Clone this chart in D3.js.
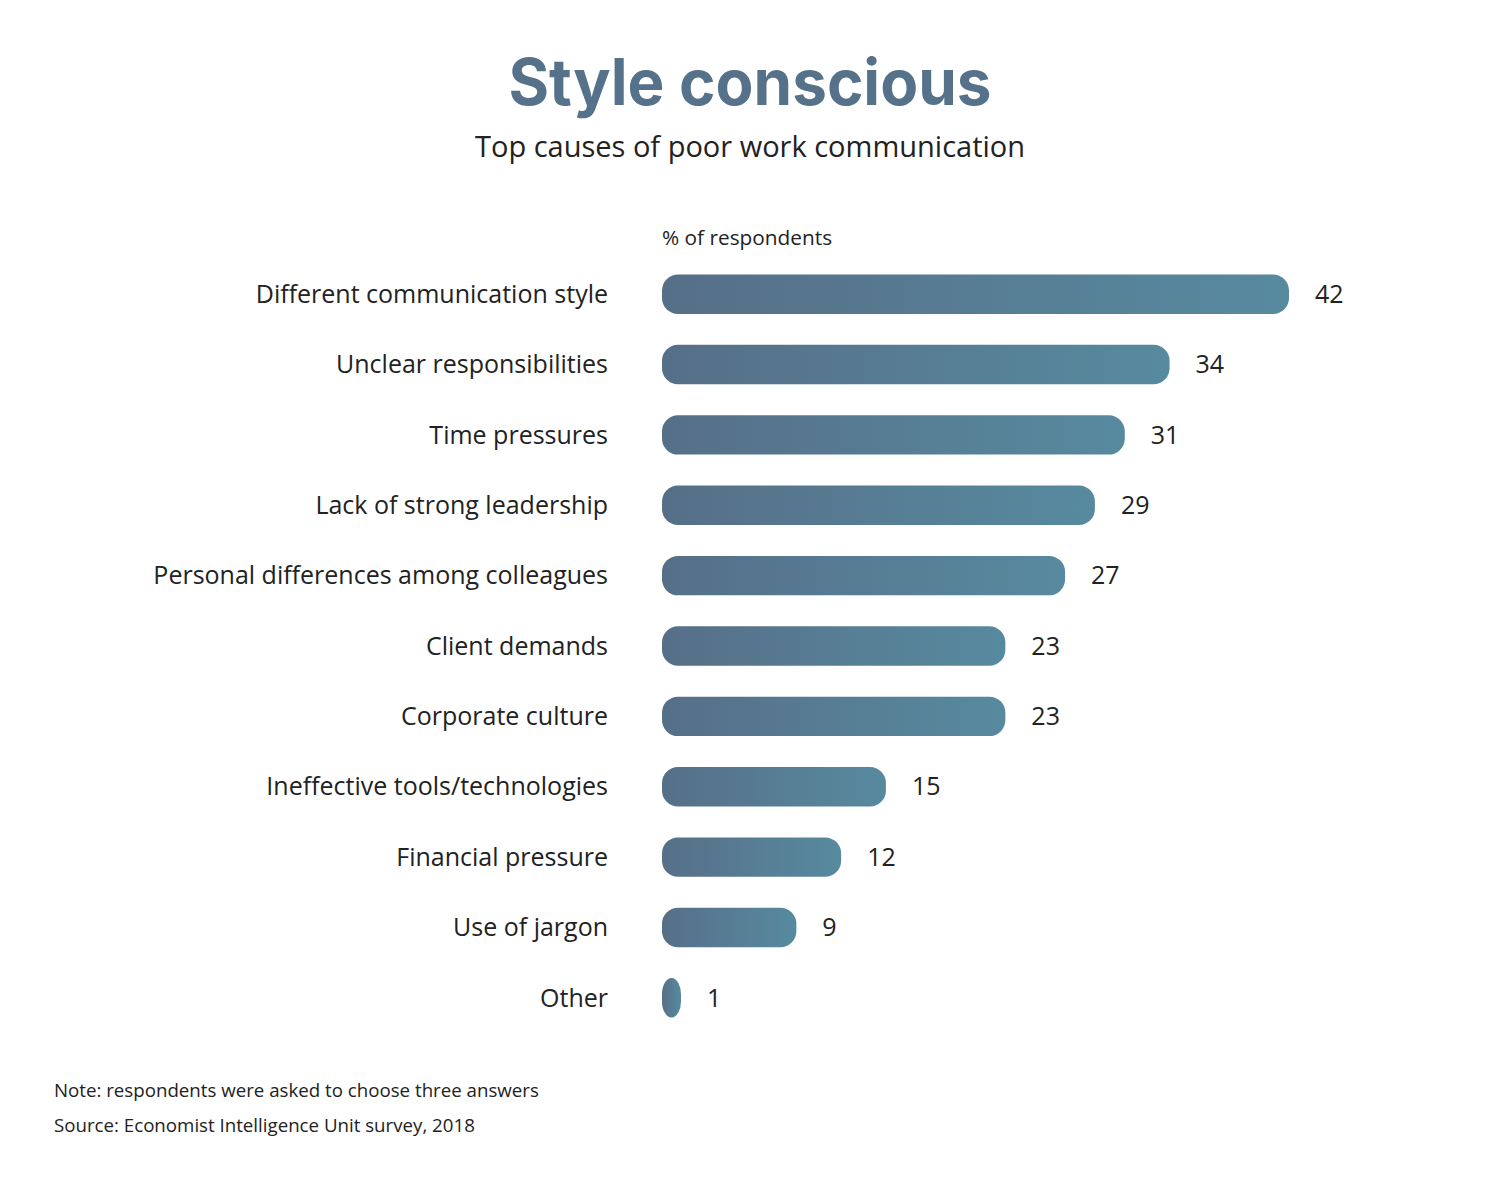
<!DOCTYPE html>
<html>
<head>
<meta charset="utf-8">
<title>Style conscious</title>
<style>
	body { margin: 0; background: #fff; }
	text { font-family: "Open Sans", sans-serif; fill: #222; }
	.title { font-family: Inter, "Open Sans", sans-serif; font-weight: 700; fill: #56728a; }
</style>
</head>
<body>
<div id="chart"></div>
<script src="https://d3js.org/d3.v7.min.js"></script>
<script>

	var categories = [
		"Different communication style",
		"Unclear responsibilities",
		"Time pressures",
		"Lack of strong leadership",
		"Personal differences among colleagues",
		"Client demands",
		"Corporate culture",
		"Ineffective tools/technologies",
		"Financial pressure",
		"Use of jargon",
		"Other"
	];
	var values = [42, 34, 31, 29, 27, 23, 23, 15, 12, 9, 1];

	var width = 1500, height = 1191;

	var svg = d3.select("#chart").append("svg")
		.attr("width", width)
		.attr("height", height);

	// gradient for the bars, left dark to right teal
	var grad = svg.append("defs").append("linearGradient")
		.attr("id", "barGrad")
		.attr("x1", "0%").attr("x2", "100%")
		.attr("y1", "0%").attr("y2", "0%");
	grad.append("stop").attr("offset", "0%").attr("stop-color", "#566f88");
	grad.append("stop").attr("offset", "100%").attr("stop-color", "#578a9f");

	// title block
	svg.append("text")
		.attr("class", "title")
		.attr("x", 750).attr("y", 105)
		.attr("text-anchor", "middle")
		.style("font-size", "64px")
		.attr("textLength", 483)
		.attr("lengthAdjust", "spacingAndGlyphs")
		.text("Style conscious");

	svg.append("text")
		.attr("x", 750).attr("y", 157)
		.attr("text-anchor", "middle")
		.style("font-size", "29px")
		.text("Top causes of poor work communication");

	// scales
	var x = d3.scaleLinear()
		.domain([0, 42])
		.range([662, 1289]);

	var y = d3.scaleBand()
		.domain(categories)
		.range([259, 1033])
		.paddingInner(0.44)
		.paddingOuter(0.22);

	svg.append("text")
		.attr("x", x(0)).attr("y", 245)
		.style("font-size", "20.8px")
		.text("% of respondents");

	var row = svg.selectAll(".row")
		.data(categories)
		.enter().append("g")
		.attr("class", "row");

	var minW = 19;

	row.append("rect")
		.attr("x", x(0))
		.attr("y", function(d) { return y(d); })
		.attr("width", function(d, i) { return Math.max(x(values[i]) - x(0), minW); })
		.attr("height", y.bandwidth())
		.attr("rx", 16).attr("ry", 16)
		.attr("fill", "url(#barGrad)");

	// category labels
	row.append("text")
		.attr("x", 608)
		.attr("y", function(d) { return y(d) + y.bandwidth() / 2; })
		.attr("dy", "0.35em")
		.attr("text-anchor", "end")
		.style("font-size", "25px")
		.text(function(d) { return d; });

	// value labels
	row.append("text")
		.attr("x", function(d, i) { return x(0) + Math.max(x(values[i]) - x(0), minW) + 26; })
		.attr("y", function(d) { return y(d) + y.bandwidth() / 2; })
		.attr("dy", "0.35em")
		.style("font-size", "25px")
		.text(function(d, i) { return values[i]; });

	// footnotes
	svg.append("text")
		.attr("x", 54).attr("y", 1097)
		.style("font-size", "18.7px")
		.text("Note: respondents were asked to choose three answers");

	svg.append("text")
		.attr("x", 54).attr("y", 1132)
		.style("font-size", "18.7px")
		.text("Source: Economist Intelligence Unit survey, 2018");

</script>
</body>
</html>
